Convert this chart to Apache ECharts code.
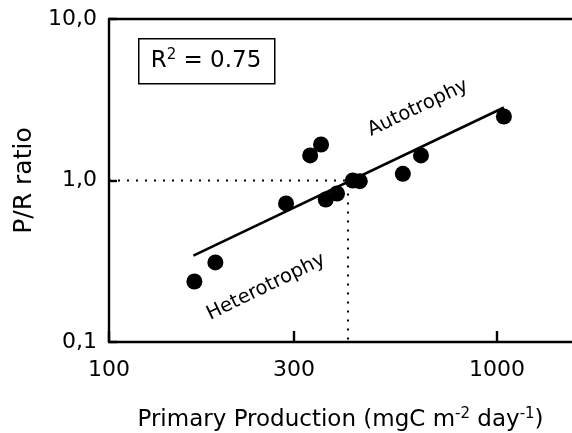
<!DOCTYPE html>
<html>
<head>
<meta charset="utf-8">
<script src="https://cdn.jsdelivr.net/npm/echarts@6/dist/echarts.min.js"></script>
<style>html,body{margin:0;padding:0;background:#fff}#c{width:572px;height:433px}</style>
</head>
<body>
<div id="c"></div>
<script>
// ---- data ----
const xTickValues = [100, 300, 1000];
const yTickValues = [0.1, 1, 10];
const primaryProduction = [166, 188, 286, 330, 352, 362, 387, 425, 443, 572, 637, 1042];
const prRatio = [0.237, 0.311, 0.721, 1.43, 1.67, 0.762, 0.831, 1.0, 0.99, 1.10, 1.43, 2.49];
const fitX = [165, 1042];
const fitY = [0.343, 2.83];
const thresholdX = 413;
const thresholdY = 1;
const xMin = 100, xMax = 1561;
const yMin = 0.1, yMax = 10;

const lg = Math.log10;
const FONT = 'DejaVu Sans';
const INK = '#000';

const chart = echarts.init(document.getElementById('c'), null, {renderer: 'canvas'});

const scatterData = primaryProduction.map((x, i) => [lg(x), prRatio[i]]);
const fitData = fitX.map((x, i) => [lg(x), fitY[i]]);
const dottedData = [[lg(xMin), thresholdY], [lg(thresholdX), thresholdY], [lg(thresholdX), yMin]];

chart.setOption({
  animation: false,
  backgroundColor: '#fff',
  textStyle: {fontFamily: FONT, color: INK},
  grid: {left: 109, right: 0, top: 19, bottom: 91, containLabel: false, outerBoundsMode: 'none'},
  xAxis: [{
    type: 'value',
    min: lg(xMin), max: lg(xMax),
    name: 'Primary Production (mgC m{sup|-2} day{sup|-1})',
    nameLocation: 'middle',
    nameGap: 65,
    nameTextStyle: {
      fontFamily: FONT, fontSize: 23, color: INK,
      rich: {sup: {fontFamily: FONT, fontSize: 15, color: INK, padding: [0, 0, 12, 0]}}
    },
    splitLine: {show: false},
    axisLine: {show: true, onZero: false, lineStyle: {color: INK, width: 2.4}},
    axisTick: {show: true, inside: true, length: 11, lineStyle: {color: INK, width: 2.4},
      customValues: xTickValues.map(lg)},
    axisLabel: {show: true, margin: 17, fontSize: 22, fontFamily: FONT, color: INK,
      customValues: xTickValues.map(lg),
      formatter: v => String(Math.round(Math.pow(10, v)))}
  }, {
    type: 'value', position: 'top',
    min: lg(xMin), max: lg(xMax),
    splitLine: {show: false},
    axisLine: {show: true, onZero: false, lineStyle: {color: INK, width: 2.4}},
    axisTick: {show: false}, axisLabel: {show: false}
  }],
  yAxis: {
    type: 'log', logBase: 10, min: yMin, max: yMax,
    name: 'P/R ratio',
    nameLocation: 'middle',
    nameGap: 64,
    nameRotate: 90,
    nameTextStyle: {fontFamily: FONT, fontSize: 25, color: INK},
    splitLine: {show: false},
    minorTick: {show: false},
    axisLine: {show: true, onZero: false, lineStyle: {color: INK, width: 2.4}},
    axisTick: {show: true, inside: true, length: 8, lineStyle: {color: INK, width: 2.4}},
    axisLabel: {margin: 12, fontSize: 22, fontFamily: FONT, color: INK,
      formatter: v => Number(v).toFixed(1).replace('.', ',')}
  },
  series: [
    {
      type: 'line', data: dottedData, symbol: 'none', silent: true,
      lineStyle: {color: INK, width: 2, type: [2, 7]}, z: 1
    },
    {
      type: 'line', data: fitData, symbol: 'none', silent: true,
      lineStyle: {color: INK, width: 2.6}, z: 2
    },
    {
      type: 'scatter', data: scatterData, symbol: 'circle', symbolSize: 16,
      itemStyle: {color: INK, opacity: 1, borderWidth: 0}, z: 3
    }
  ],
  graphic: [
    {
      type: 'rect', left: 138, top: 38, shape: {width: 136, height: 45},
      style: {fill: '#fff', stroke: INK, lineWidth: 1.5}, z: 10
    },
    {
      type: 'text', x: 206, y: 61, z: 11,
      style: {
        text: 'R{sup|2} = 0.75', align: 'center', verticalAlign: 'middle',
        fontFamily: FONT, fontSize: 23, fill: INK,
        rich: {sup: {fontFamily: FONT, fontSize: 15, fill: INK, padding: [0, 0, 12, 0]}}
      }
    },
    {
      type: 'text', x: 418, y: 108, rotation: 25.4 * Math.PI / 180, z: 11,
      style: {text: 'Autotrophy', align: 'center', verticalAlign: 'middle',
        fontFamily: FONT, fontSize: 19.5, fill: INK}
    },
    {
      type: 'text', x: 266, y: 287, rotation: 26 * Math.PI / 180, z: 11,
      style: {text: 'Heterotrophy', align: 'center', verticalAlign: 'middle',
        fontFamily: FONT, fontSize: 19.5, fill: INK}
    }
  ]
});
</script>
</body>
</html>
